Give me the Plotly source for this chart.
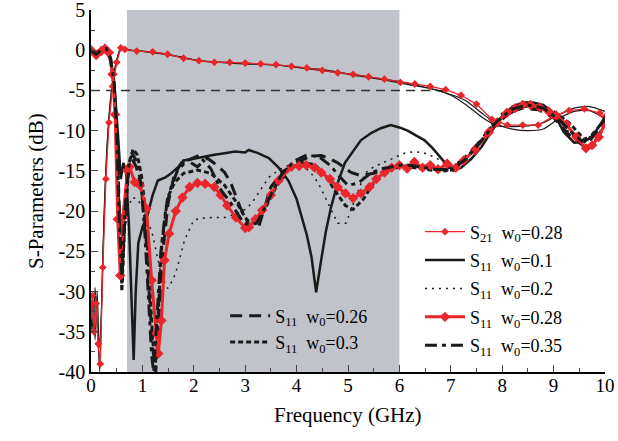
import plotly.graph_objects as go

# ---------------- data ----------------
# S21, w0 = 0.28 (red, diamond markers)
f_s21_028 = [0, 0.03, 0.06, 0.1, 0.14, 0.18, 0.23, 0.29, 0.35, 0.42, 0.5, 0.58, 0.66, 0.89, 1.2, 1.49, 1.8, 2.1, 2.4, 2.7,
             3.0, 3.3, 3.6, 3.9, 4.2, 4.5, 4.8, 5.1, 5.4, 5.71, 6.02, 6.3, 6.6, 6.9, 7.2, 7.5, 7.8, 8.1, 8.4, 8.7,
             9.0, 9.3, 9.6, 9.9, 10]
s21_028 = [-33, -30.5, -35, -31.5, -36.5, -39, -27, -16, -9, -4.5, -1.5, 0.3, 0.1, -0.1, -0.2, -0.5, -1.0, -1.3, -1.5, -1.5,
           -1.6, -1.7, -1.8, -2.0, -2.2, -2.5, -2.8, -3.0, -3.3, -3.6, -4.0, -4.2, -4.5, -4.9, -5.6, -6.7, -8.6, -9.3, -9.3, -9.3,
           -8.2, -7.5, -7.3, -7.8, -8.3]

# S21 for the other w0 values (thin black, not in legend)
f_s21_a = [0, 0.04, 0.08, 0.12, 0.17, 0.22, 0.28, 0.34, 0.42, 0.5, 0.58, 0.7, 1.0, 1.5, 2.0, 2.5, 3.0, 3.5, 4.0, 4.5,
           5.0, 5.5, 6.0, 6.5, 7.0, 7.3, 7.6, 7.9, 8.2, 8.5, 8.8, 9.1, 9.4, 9.7, 10]
s21_a = [-31, -35, -29.5, -34, -40, -28, -16.5, -9.5, -4, -1.2, 0.3, 0, -0.1, -0.5, -1.2, -1.5, -1.7, -1.8, -2.1, -2.4,
         -2.9, -3.4, -3.9, -4.6, -5.5, -6.3, -7.8, -9.2, -9.8, -10, -9.8, -8.5, -7.6, -7.5, -8.5]
f_s21_b = [0, 0.04, 0.08, 0.12, 0.16, 0.2, 0.25, 0.31, 0.38, 0.46, 0.55, 0.62, 0.8, 1.2, 1.7, 2.2, 2.7, 3.2, 3.7, 4.2,
           4.7, 5.2, 5.7, 6.2, 6.7, 7.0, 7.3, 7.6, 7.9, 8.2, 8.5, 8.8, 9.1, 9.4, 9.7, 10]
s21_b = [-35, -31, -36, -30, -37, -33, -21, -12, -6, -2.5, -0.2, 0.2, 0, -0.3, -0.8, -1.4, -1.5, -1.7, -1.9, -2.3,
         -2.7, -3.2, -3.7, -4.3, -4.9, -5.6, -6.8, -8.3, -9.4, -9.5, -9.4, -9.0, -8.0, -7.2, -7.0, -7.6]

# S11, w0 = 0.1 (solid)
f_s11_01 = [0, 0.1, 0.2, 0.3, 0.38, 0.45, 0.52, 0.58, 0.63, 0.68, 0.74, 0.79, 0.83, 0.87, 0.92, 1.0, 1.1, 1.2, 1.3, 1.45,
            1.56, 1.7, 1.8, 2.0, 2.14, 2.4, 2.6, 2.8, 3.0, 3.07, 3.25, 3.46, 3.65, 3.84, 4.0, 4.1, 4.2, 4.29, 4.38, 4.48,
            4.57, 4.67, 4.8, 4.94, 5.1, 5.25, 5.45, 5.64, 5.83, 6.0, 6.16, 6.3, 6.49, 6.65, 6.8, 6.93, 7.05, 7.2, 7.4, 7.6,
            7.8, 8.0, 8.2, 8.4, 8.6, 8.8, 9.0, 9.2, 9.4, 9.55, 9.7, 9.85, 10]
s11_01 = [0, -0.5, 0, 0.1, -1, -4, -10, -16, -14, -15, -22, -31, -38.5, -30, -24, -22, -20.5, -18, -16.2, -15.8,
          -15.3, -14.5, -13.7, -13.5, -13.3, -13, -12.8, -12.6, -12.7, -12.4, -12.8, -13.4, -14.6, -16.2, -18.5, -20.8, -23, -25.7, -30.1, -26,
          -22.5, -19.5, -16.5, -14, -12.5, -11.2, -10.3, -9.7, -9.3, -9.6, -10, -10.5, -11.2, -12.2, -13.4, -14.3, -15, -14.6, -13.5, -12,
          -10, -8.2, -7, -6.5, -6.5, -6.8, -7.8, -10.2, -11.5, -11.4, -11, -9.8, -8.3]

# S11, w0 = 0.2 (dotted)
f_s11_02 = [0, 0.1, 0.2, 0.3, 0.38, 0.45, 0.52, 0.57, 0.62, 0.7, 0.8, 0.9, 1.0, 1.1, 1.2, 1.3, 1.37, 1.49, 1.6, 1.68,
            1.82, 2.0, 2.15, 2.33, 2.6, 2.84, 3.0, 3.13, 3.3, 3.46, 3.65, 3.84, 4.0, 4.19, 4.35, 4.46, 4.61, 4.8, 4.96, 5.13,
            5.33, 5.5, 5.64, 5.9, 6.1, 6.3, 6.49, 6.65, 6.8, 7.0, 7.2, 7.4, 7.6, 7.8, 8.0, 8.2, 8.4, 8.6, 8.8, 9.0,
            9.2, 9.4, 9.6, 9.8, 10]
s11_02 = [0, -0.5, 0, 0.1, -1, -4.5, -13, -24, -26, -20, -18.3, -18.5, -19.5, -21, -23, -26, -28, -29.6, -28.5, -27,
          -23.6, -21.1, -20.9, -20.8, -20.8, -20.3, -19.8, -19, -17.4, -15.8, -14.9, -14.3, -14.3, -14.7, -15.8, -17, -19, -21.5, -21.5, -18.7,
          -15.3, -14.5, -14.1, -13.3, -12.8, -12.6, -12.8, -13.2, -13.7, -14.6, -14, -12.8, -11, -9.2, -7.8, -7, -6.8, -7, -7.5, -8.3,
          -9.5, -10.8, -11.5, -10, -8.5]

# S11, w0 = 0.26 (long dash)
f_s11_026 = [0, 0.1, 0.2, 0.3, 0.38, 0.45, 0.5, 0.55, 0.6, 0.65, 0.72, 0.8, 0.88, 0.96, 1.05, 1.13, 1.2, 1.26, 1.32, 1.4,
             1.5, 1.62, 1.76, 1.9, 2.07, 2.26, 2.45, 2.6, 2.72, 2.9, 3.1, 3.26, 3.38, 3.5, 3.75, 4.03, 4.25, 4.48, 4.65, 4.8,
             5.06, 5.25, 5.5, 5.75, 6.0, 6.3, 6.6, 6.9, 7.2, 7.5, 7.8, 8.1, 8.4, 8.7, 9.0, 9.3, 9.6, 9.8, 10]
s11_026 = [0, -0.5, 0, 0.1, -1, -4, -10, -20, -29, -22, -15, -13.5, -14.5, -16.5, -21, -30, -37, -40, -34, -25,
           -19, -15.5, -14, -13.8, -14.5, -13.4, -14.3, -15.2, -16.5, -19.5, -22, -22, -19.5, -17, -15, -13.9, -13.2, -13.1, -13.5, -14,
           -15.2, -15.6, -15.3, -14.8, -14.5, -14.2, -14.5, -14.8, -13.8, -11.8, -9.5, -7.8, -7.2, -7.4, -8.4, -10.5, -12, -10.5, -8.8]

# S11, w0 = 0.28 (red, diamond markers)
f_s11_028 = [0, 0.1, 0.2, 0.27, 0.35, 0.42, 0.47, 0.52, 0.57, 0.62, 0.71, 0.75, 0.85, 0.95, 1.08, 1.18, 1.27, 1.31, 1.37, 1.43,
             1.52, 1.65, 1.78, 1.92, 2.07, 2.22, 2.4, 2.52, 2.65, 2.82, 3.0, 3.07, 3.2, 3.33, 3.5, 3.65, 3.9, 4.05, 4.19, 4.35,
             4.48, 4.65, 4.8, 4.95, 5.1, 5.25, 5.42, 5.55, 5.71, 5.85, 6.0, 6.15, 6.29, 6.45, 6.6, 6.75, 6.93, 7.1, 7.25, 7.47,
             7.74, 7.9, 8.09, 8.25, 8.4, 8.55, 8.73, 8.9, 9.05, 9.25, 9.44, 9.63, 9.75, 9.88, 10]
s11_028 = [0, -0.6, -0.1, 0.2, -0.3, -3, -8, -21, -28, -20.8, -15, -14.5, -16.4, -16.8, -19.7, -28.6, -35.2, -37.7, -33.6, -26.1,
           -22.8, -20, -18.3, -17, -16.5, -16.6, -17, -18, -19.3, -20.8, -22.1, -22, -21, -19.9, -18, -16.2, -14.5, -14.4, -14.3, -14.6,
           -15.2, -16, -17, -17.8, -18.4, -17.8, -17, -16, -15.2, -14.6, -14.3, -14.7, -13.9, -14.6, -14.3, -14.8, -14.1, -14.6, -13.7, -12.4,
           -10.2, -9, -7.8, -7.2, -6.8, -6.8, -7.1, -7.6, -8.1, -9.2, -10.8, -12.2, -11.8, -10.8, -9.1]

# S11, w0 = 0.3 (short dash)
f_s11_03 = [0, 0.1, 0.2, 0.3, 0.38, 0.45, 0.5, 0.55, 0.6, 0.66, 0.74, 0.82, 0.9, 0.98, 1.06, 1.14, 1.2, 1.25, 1.31, 1.38,
            1.49, 1.62, 1.8, 2.07, 2.33, 2.6, 2.84, 3.0, 3.1, 3.25, 3.4, 3.6, 3.85, 4.1, 4.35, 4.55, 4.75, 4.95, 5.1, 5.3,
            5.5, 5.75, 6.0, 6.3, 6.6, 6.9, 7.2, 7.5, 7.8, 8.1, 8.4, 8.7, 9.0, 9.3, 9.5, 9.7, 9.85, 10]
s11_03 = [0, -0.6, -0.1, 0.1, -1.2, -4.5, -11, -22, -30, -21, -14, -12.3, -13, -15.5, -20, -29, -36, -39.5, -33, -24,
          -18.3, -16.5, -15.3, -14.9, -15.3, -16.8, -19, -20.8, -21.5, -21.2, -19.5, -17, -14.8, -14, -14.2, -15.5, -17.5, -19.3, -19.8, -18.5,
          -16.5, -15, -14.5, -14.6, -14.9, -15, -14, -12, -9.8, -8, -7, -6.9, -7.6, -9, -10.4, -11.8, -11, -9]

# S11, w0 = 0.35 (dash-dot)
f_s11_035 = [0, 0.1, 0.2, 0.3, 0.38, 0.45, 0.5, 0.55, 0.6, 0.66, 0.75, 0.82, 0.9, 0.98, 1.05, 1.12, 1.18, 1.22, 1.28, 1.36,
             1.46, 1.56, 1.68, 1.87, 2.1, 2.33, 2.53, 2.72, 2.97, 3.1, 3.22, 3.35, 3.5, 3.7, 3.95, 4.2, 4.45, 4.65, 4.85, 5.0,
             5.2, 5.4, 5.6, 5.85, 6.1, 6.4, 6.7, 7.0, 7.3, 7.6, 7.9, 8.2, 8.5, 8.8, 9.1, 9.35, 9.55, 9.75, 10]
s11_035 = [0, -0.5, 0, 0.2, -1, -4, -10, -21, -28, -20, -13.5, -13, -14, -17, -23, -31, -38, -40, -34, -25,
           -19.5, -17, -15, -13.7, -13.1, -14.7, -17.4, -19, -21.5, -21.7, -21.5, -20, -18, -15.5, -13.8, -13, -13.3, -14.3, -15.8, -16.8,
           -16.5, -15.5, -14.8, -14.5, -14.2, -14.5, -14.8, -14.9, -13.5, -11.2, -8.8, -7.3, -6.8, -7.2, -8.6, -10.2, -11.3, -10.5, -8.6]

# -5 dB reference line and shaded band
ref_f = [0, 6.9]
ref_db = [-5, -5]
band_f = [0.7, 6.0]

x_ticks = [0, 1, 2, 3, 4, 5, 6, 7, 8, 9, 10]
x_labels = ["0", "1", "2", "3", "4", "5", "6", "7", "8", "9", "10"]
y_ticks = [5, 0, -5, -10, -15, -20, -25, -30, -35, -40]
y_labels = ["5", "0", "-5", "-10", "-15", "-20", "-25", "-30", "-35", "-40"]
x_title = "Frequency (GHz)"
y_title = "S-Parameters (dB)"

for a, b in [(f_s21_028, s21_028), (f_s21_a, s21_a), (f_s21_b, s21_b), (f_s11_01, s11_01), (f_s11_02, s11_02),
             (f_s11_026, s11_026), (f_s11_028, s11_028), (f_s11_03, s11_03), (f_s11_035, s11_035)]:
    assert len(a) == len(b), (len(a), len(b))

# ---------------- figure ----------------
RED = "#e8262c"
BLK = "#1a1a1a"
FONT = "Liberation Serif, Times New Roman, serif"

fig = go.Figure()

fig.add_trace(go.Scatter(x=ref_f, y=ref_db, mode="lines", showlegend=False,
                         line=dict(color="#333333", width=1.5, dash="9px,6px"), hoverinfo="skip"))

for fx, fy in [(f_s21_a, s21_a), (f_s21_b, s21_b)]:
    fig.add_trace(go.Scatter(x=fx, y=fy, mode="lines", showlegend=False,
                             line=dict(color=BLK, width=1.2, shape="spline", smoothing=0.6)))

def name(s, w):
    return f"S<sub>{s}</sub>  w<sub>0</sub>=" + w

fig.add_trace(go.Scatter(x=f_s11_026, y=s11_026, mode="lines", name=name("11", "0.26"), legend="legend2",
                         legendgroup="g026", line=dict(color=BLK, width=3, dash="12px,7px")))
fig.add_trace(go.Scatter(x=f_s11_03, y=s11_03, mode="lines", name=name("11", "0.3"), legend="legend2",
                         legendgroup="g03", line=dict(color=BLK, width=3, dash="5px,3px")))

fig.add_trace(go.Scatter(x=f_s21_028, y=s21_028, mode="lines+markers", name=name("21", "0.28"), legend="legend",
                         legendgroup="a", line=dict(color=RED, width=1.3),
                         marker=dict(symbol="diamond", size=6, color=RED)))
fig.add_trace(go.Scatter(x=f_s11_01, y=s11_01, mode="lines", name=name("11", "0.1"), legend="legend",
                         legendgroup="b", line=dict(color=BLK, width=2.5)))
fig.add_trace(go.Scatter(x=f_s11_02, y=s11_02, mode="lines", name=name("11", "0.2"), legend="legend",
                         legendgroup="c", line=dict(color=BLK, width=1.5, dash="2px,5px")))
fig.add_trace(go.Scatter(x=f_s11_028, y=s11_028, mode="lines+markers", name=name("11", "0.28"), legend="legend",
                         legendgroup="d", line=dict(color=RED, width=3),
                         marker=dict(symbol="diamond", size=8, color=RED)))
fig.add_trace(go.Scatter(x=f_s11_035, y=s11_035, mode="lines", name=name("11", "0.35"), legend="legend",
                         legendgroup="e", line=dict(color=BLK, width=3, dash="12px,5px,4px,5px")))

fig.add_shape(type="rect", xref="x", yref="y", x0=band_f[0], x1=band_f[1], y0=-40, y1=5,
              fillcolor="#c0c3ca", line=dict(width=0), layer="below")

legend_common = dict(bgcolor="rgba(0,0,0,0)", borderwidth=0, font=dict(family=FONT, size=18, color="black"),
                     xanchor="left", yanchor="top", itemwidth=40)

fig.add_annotation(text=x_title, xref="paper", yref="paper", x=0.5, y=0, yshift=-43, xanchor="center",
                   yanchor="middle", showarrow=False, font=dict(family=FONT, size=21, color="black"))
fig.add_annotation(text=y_title, xref="paper", yref="paper", x=0, y=0.5, xshift=-55, textangle=-90,
                   xanchor="center", yanchor="middle", showarrow=False, font=dict(family=FONT, size=21, color="black"))

fig.update_layout(
    width=618, height=441,
    margin=dict(l=91, r=13, t=10, b=69, autoexpand=False),
    paper_bgcolor="white", plot_bgcolor="white",
    font=dict(family=FONT, size=18, color="black"),
    legend=dict(x=0.64, y=0.438, tracegroupgap=2, **legend_common),
    legend2=dict(x=0.261, y=0.206, tracegroupgap=0, **legend_common),
    xaxis=dict(range=[0, 10], tickvals=x_ticks, ticktext=x_labels, ticks="inside", ticklen=7, tickwidth=1.2,
               showline=True, linecolor="black", linewidth=1.5, showgrid=False, zeroline=False, automargin=False,
               ticklabeloverflow="allow", ticklabelstandoff=-5, tickfont=dict(family=FONT, size=19),
               minor=dict(dtick=0.5, ticks="inside", ticklen=4, tickwidth=1, showgrid=False)),
    yaxis=dict(range=[-40, 5], tickvals=y_ticks, ticktext=y_labels, ticks="inside", ticklen=7, tickwidth=1.2,
               showline=True, linecolor="black", linewidth=1.5, showgrid=False, zeroline=False, automargin=False,
               ticklabeloverflow="allow", tickfont=dict(family=FONT, size=20),
               minor=dict(dtick=2.5, ticks="inside", ticklen=4, tickwidth=1, showgrid=False)),
)

# the page's default 8px body margin would shift the 618x441 figure; remove it
fig.write_html("out.html", config={"displayModeBar": False},
               post_script="document.body.style.margin='0';document.body.style.overflow='hidden';")
